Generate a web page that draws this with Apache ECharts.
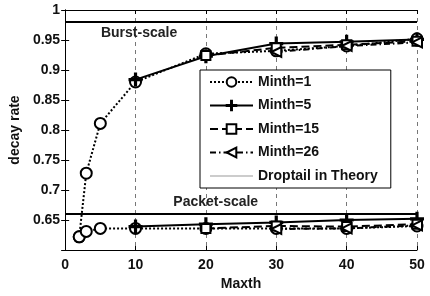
<!DOCTYPE html>
<html>
<head>
<meta charset="utf-8">
<script src="https://cdn.jsdelivr.net/npm/echarts@6/dist/echarts.min.js"></script>
<style>
  * { margin: 0; padding: 0; }
  body { background: #fff; }
  #chart-container { width: 430px; height: 296px; }
</style>
</head>
<body>
<div id="chart-container"></div>
<script>
  // Maxth values per Minth curve
  var maxth1 = [2, 3, 5, 10, 20, 30, 40, 50]
  var maxth5 = [10, 20, 30, 40, 50]
  var maxth15 = [20, 30, 40, 50]
  var maxth26 = [30, 40, 50]

  // burst-scale decay rates
  var burst1 = [0.622, 0.728, 0.811, 0.880, 0.927, 0.932, 0.940, 0.952]
  var burst5 = [0.884, 0.923, 0.944, 0.947, 0.951]
  var burst15 = [0.924, 0.937, 0.942, 0.948]
  var burst26 = [0.930, 0.940, 0.946]

  // packet-scale decay rates
  var packet1 = [0.622, 0.631, 0.636, 0.636, 0.636, 0.636, 0.636, 0.640]
  var packet5 = [0.639, 0.643, 0.646, 0.650, 0.652]
  var packet15 = [0.636, 0.640, 0.639, 0.643]
  var packet26 = [0.635, 0.636, 0.641]

  // droptail theory levels
  var theoryX = [0, 50]
  var theoryBurst = 0.98
  var theoryPacket = 0.66

  var font = 'Liberation Sans, Arial, sans-serif'

  function pairs(xs, ys) {
    return xs.map(function (x, i) { return [x, ys[i]] })
  }

  var plusPath = 'path://M-1,-10h2v20h-2z M-10,-1h20v2h-20z'

  var styles = {
    'Minth=1': { symbol: 'emptyCircle', symbolSize: 11, type: 'dotted', rotate: 0 },
    'Minth=5': { symbol: plusPath, symbolSize: 12, type: 'solid', rotate: 0 },
    'Minth=15': { symbol: 'emptyRect', symbolSize: 9, type: 'dashed', rotate: 0 },
    'Minth=26': { symbol: 'emptyTriangle', symbolSize: 10, type: [6, 3, 1.5, 3], rotate: 90 },
  }

  function curve(name, xs, ys) {
    var s = styles[name]
    return {
      name: name,
      type: 'line',
      data: pairs(xs, ys),
      symbol: s.symbol,
      symbolSize: s.symbolSize,
      symbolRotate: s.rotate,
      lineStyle: { color: '#000', width: 2, type: s.type },
      itemStyle: { color: '#000', borderColor: '#000', borderWidth: 2 },
      z: 3,
    }
  }

  function theory(level, label, labelPos) {
    return {
      name: 'Droptail in Theory',
      type: 'line',
      data: pairs(theoryX, [level, level]),
      symbol: 'none',
      lineStyle: { color: '#000', width: 2 },
      itemStyle: { color: '#000' },
      markPoint: {
        symbol: 'circle',
        symbolSize: 0,
        label: {
          show: true,
          formatter: label,
          color: '#222',
          fontFamily: font,
          fontWeight: 'bold',
          fontSize: 14,
        },
        data: [{ coord: labelPos }],
      },
      z: 2,
    }
  }

  var myChart = echarts.init(document.getElementById('chart-container'), null, { renderer: 'canvas' })

  var option = {
    animation: false,
    grid: { left: 59, right: 13, top: 10, bottom: 45 },
    legend: {
      orient: 'vertical',
      left: 200,
      top: 70,
      padding: [5, 13, 5, 9],
      itemWidth: 43,
      itemHeight: 12,
      itemGap: 9.5,
      backgroundColor: '#fff',
      borderColor: '#000',
      borderWidth: 1,
      textStyle: { fontFamily: font, fontWeight: 'bold', fontSize: 14, color: '#111' },
      data: [
        'Minth=1',
        'Minth=5',
        'Minth=15',
        'Minth=26',
        {
          name: 'Droptail in Theory',
          itemStyle: { opacity: 0 },
          lineStyle: { color: '#999', width: 1 },
        },
      ],
    },
    xAxis: [
      {
        type: 'value',
        min: 0,
        max: 50,
        interval: 10,
        name: 'Maxth',
        nameLocation: 'middle',
        nameGap: 27,
        nameTextStyle: { fontFamily: font, fontWeight: 'bold', fontSize: 14, color: '#111' },
        axisLine: { lineStyle: { color: '#000', width: 1 } },
        axisTick: { inside: true, length: 4, lineStyle: { color: '#000' } },
        axisLabel: { fontFamily: font, fontWeight: 'bold', fontSize: 14, color: '#111', margin: 8 },
        splitLine: { show: true, lineStyle: { color: '#777', type: [4, 4] } },
      },
      {
        type: 'value',
        position: 'top',
        min: 0,
        max: 50,
        interval: 10,
        axisLine: { lineStyle: { color: '#000', width: 1 } },
        axisTick: { inside: true, length: 4, lineStyle: { color: '#000' } },
        axisLabel: { show: false },
        splitLine: { show: false },
      },
    ],
    yAxis: [
      {
        type: 'value',
        min: 0.6,
        max: 1,
        interval: 0.05,
        name: 'decay rate',
        nameLocation: 'middle',
        nameGap: 40,
        nameTextStyle: { fontFamily: font, fontWeight: 'bold', fontSize: 14, color: '#111' },
        axisLine: { show: true, lineStyle: { color: '#000', width: 1 } },
        axisTick: { show: true, inside: true, length: 4, lineStyle: { color: '#000' } },
        axisLabel: {
          fontFamily: font,
          fontWeight: 'bold',
          fontSize: 14,
          color: '#111',
          margin: 5,
          showMinLabel: false,
          formatter: function (v) { return String(+v.toFixed(2)) },
        },
        splitLine: { show: false },
      },
      {
        type: 'value',
        position: 'right',
        min: 0.6,
        max: 1,
        interval: 0.05,
        axisLine: { show: true, lineStyle: { color: '#000', width: 1 } },
        axisTick: { show: true, inside: true, length: 4, lineStyle: { color: '#000' } },
        axisLabel: { show: false },
        splitLine: { show: false },
      },
    ],
    series: [
      theory(theoryBurst, 'Burst-scale', [10.5, 0.962]),
      theory(theoryPacket, 'Packet-scale', [21.4, 0.679]),
      curve('Minth=1', maxth1, burst1),
      curve('Minth=1', maxth1, packet1),
      curve('Minth=5', maxth5, burst5),
      curve('Minth=5', maxth5, packet5),
      curve('Minth=15', maxth15, burst15),
      curve('Minth=15', maxth15, packet15),
      curve('Minth=26', maxth26, burst26),
      curve('Minth=26', maxth26, packet26),
    ],
  }

  myChart.setOption(option)
  window.addEventListener('resize', myChart.resize)
</script>
</body>
</html>
